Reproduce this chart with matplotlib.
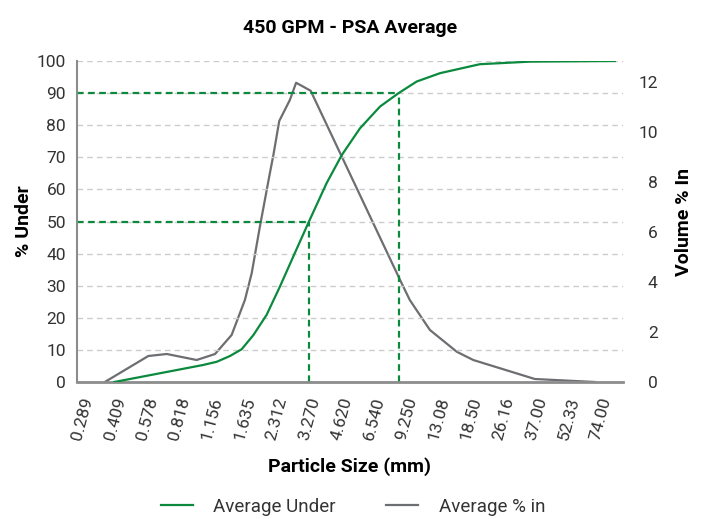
import numpy as np
import matplotlib.pyplot as plt

plt.rcParams['font.family'] = ['Roboto', 'DejaVu Sans']

# sieve sizes used as tick labels (mm)
sieve_labels = ['0.289', '0.409', '0.578', '0.818', '1.156', '1.635', '2.312', '3.270',
                '4.620', '6.540', '9.250', '13.08', '18.50', '26.16', '37.00', '52.33', '74.00']
sieve_sizes = [0.289 * np.sqrt(2) ** i for i in range(len(sieve_labels))]

# Average Under (% passing)
under_size = [0.413, 1.067, 1.235, 1.423, 1.612, 1.827, 2.105, 2.427, 2.797, 3.292,
              3.997, 4.705, 5.713, 7.08, 8.60, 10.48, 13.45, 20.6, 35.2, 87.4]
under_pct = [0, 5.3, 6.3, 8.1, 10.2, 14.6, 20.9, 29.7, 39.0, 49.6,
             61.9, 70.7, 79.0, 85.8, 89.9, 93.6, 96.2, 99.0, 99.8, 100.0]

# Average % in (volume %)
in_size = [0.373, 0.594, 0.724, 0.996, 1.213, 1.448, 1.669, 1.795, 1.958, 2.18, 2.264,
           2.41, 2.70, 2.887, 3.373, 8.78, 9.74, 12.08, 16.1, 19.2, 37.1, 70.5]
in_pct = [0, 1.04, 1.12, 0.88, 1.12, 1.88, 3.28, 4.35, 6.2, 8.35, 9.08,
          10.44, 11.28, 11.97, 11.65, 4.08, 3.28, 2.08, 1.21, 0.88, 0.12, 0]

green = '#0b8a3e'
gray = '#6d6e71'

fig = plt.figure(figsize=(7.06, 5.19), dpi=100)
ax = fig.add_axes([77 / 706, 137 / 519, 546 / 706, 321 / 519])
ax2 = ax.twinx()

ax.set_xscale('log')
ax.set_xlim(0.277, 95.3)
ax.set_ylim(0, 100)
ax2.set_ylim(0, 12.84)

ax.set_yticks(range(0, 101, 10))
ax2.set_yticks(range(0, 13, 2))
ax.yaxis.grid(True, color='#cccccc', linestyle=(0, (4, 3)), linewidth=1)
ax.set_axisbelow(True)

ax.set_xticks(sieve_sizes)
ax.set_xticklabels(sieve_labels, rotation=75, ha='right', rotation_mode='anchor')
ax.xaxis.set_minor_locator(plt.NullLocator())

# D50 / D90 guide lines
for p in (50, 90):
    d = np.exp(np.interp(p, under_pct, np.log(under_size)))
    ax.plot([ax.get_xlim()[0], d], [p, p], color=green, linestyle=(0, (3, 2)), lw=1.6, zorder=2)
    ax.plot([d, d], [0, p], color=green, linestyle=(0, (3, 2)), lw=1.6, zorder=2)

ax2.plot(in_size, in_pct, color=gray, lw=1.6, label='Average % in')
ax.plot(under_size, under_pct, color=green, lw=1.6, label='Average Under', zorder=3)
ax.set_zorder(ax2.get_zorder() + 1)
ax.patch.set_visible(False)

for a in (ax, ax2):
    for s in a.spines.values():
        s.set_visible(False)
    a.tick_params(length=0, labelsize=12.5, labelcolor='#333333')
ax.spines['left'].set_visible(True)
ax.spines['left'].set_color('#8c8c8c')
ax.spines['left'].set_linewidth(1.5)
ax.spines['bottom'].set_visible(True)
ax.spines['bottom'].set_color('#8c8c8c')
ax.spines['bottom'].set_linewidth(2)
ax.tick_params(axis='y', pad=8)
ax.tick_params(axis='x', pad=10)
ax2.tick_params(axis='y', pad=25)
for t in ax2.get_yticklabels():
    t.set_ha('right')

ax.set_title('450 GPM - PSA Average', fontsize=14, fontweight='bold', pad=20)
ax.set_xlabel('Particle Size (mm)', fontsize=14, fontweight='bold')
ax.set_ylabel('% Under', fontsize=14, fontweight='bold')
ax2.set_ylabel('Volume % In', fontsize=14, fontweight='bold')
ax.xaxis.set_label_coords(0.5, -0.235)
ax.yaxis.set_label_coords(-0.08, 0.5)
ax2.yaxis.set_label_coords(1.095, 0.5)

h1, l1 = ax.get_legend_handles_labels()
h2, l2 = ax2.get_legend_handles_labels()
fig.legend(h1 + h2, l1 + l2, loc='center', bbox_to_anchor=(0.5, 0.024), ncol=2,
           frameon=False, prop={'size': 13.5}, handlelength=1.7,
           handletextpad=1.1, columnspacing=2.7, labelcolor='#333333')

fig.savefig('out.png', dpi=100)
